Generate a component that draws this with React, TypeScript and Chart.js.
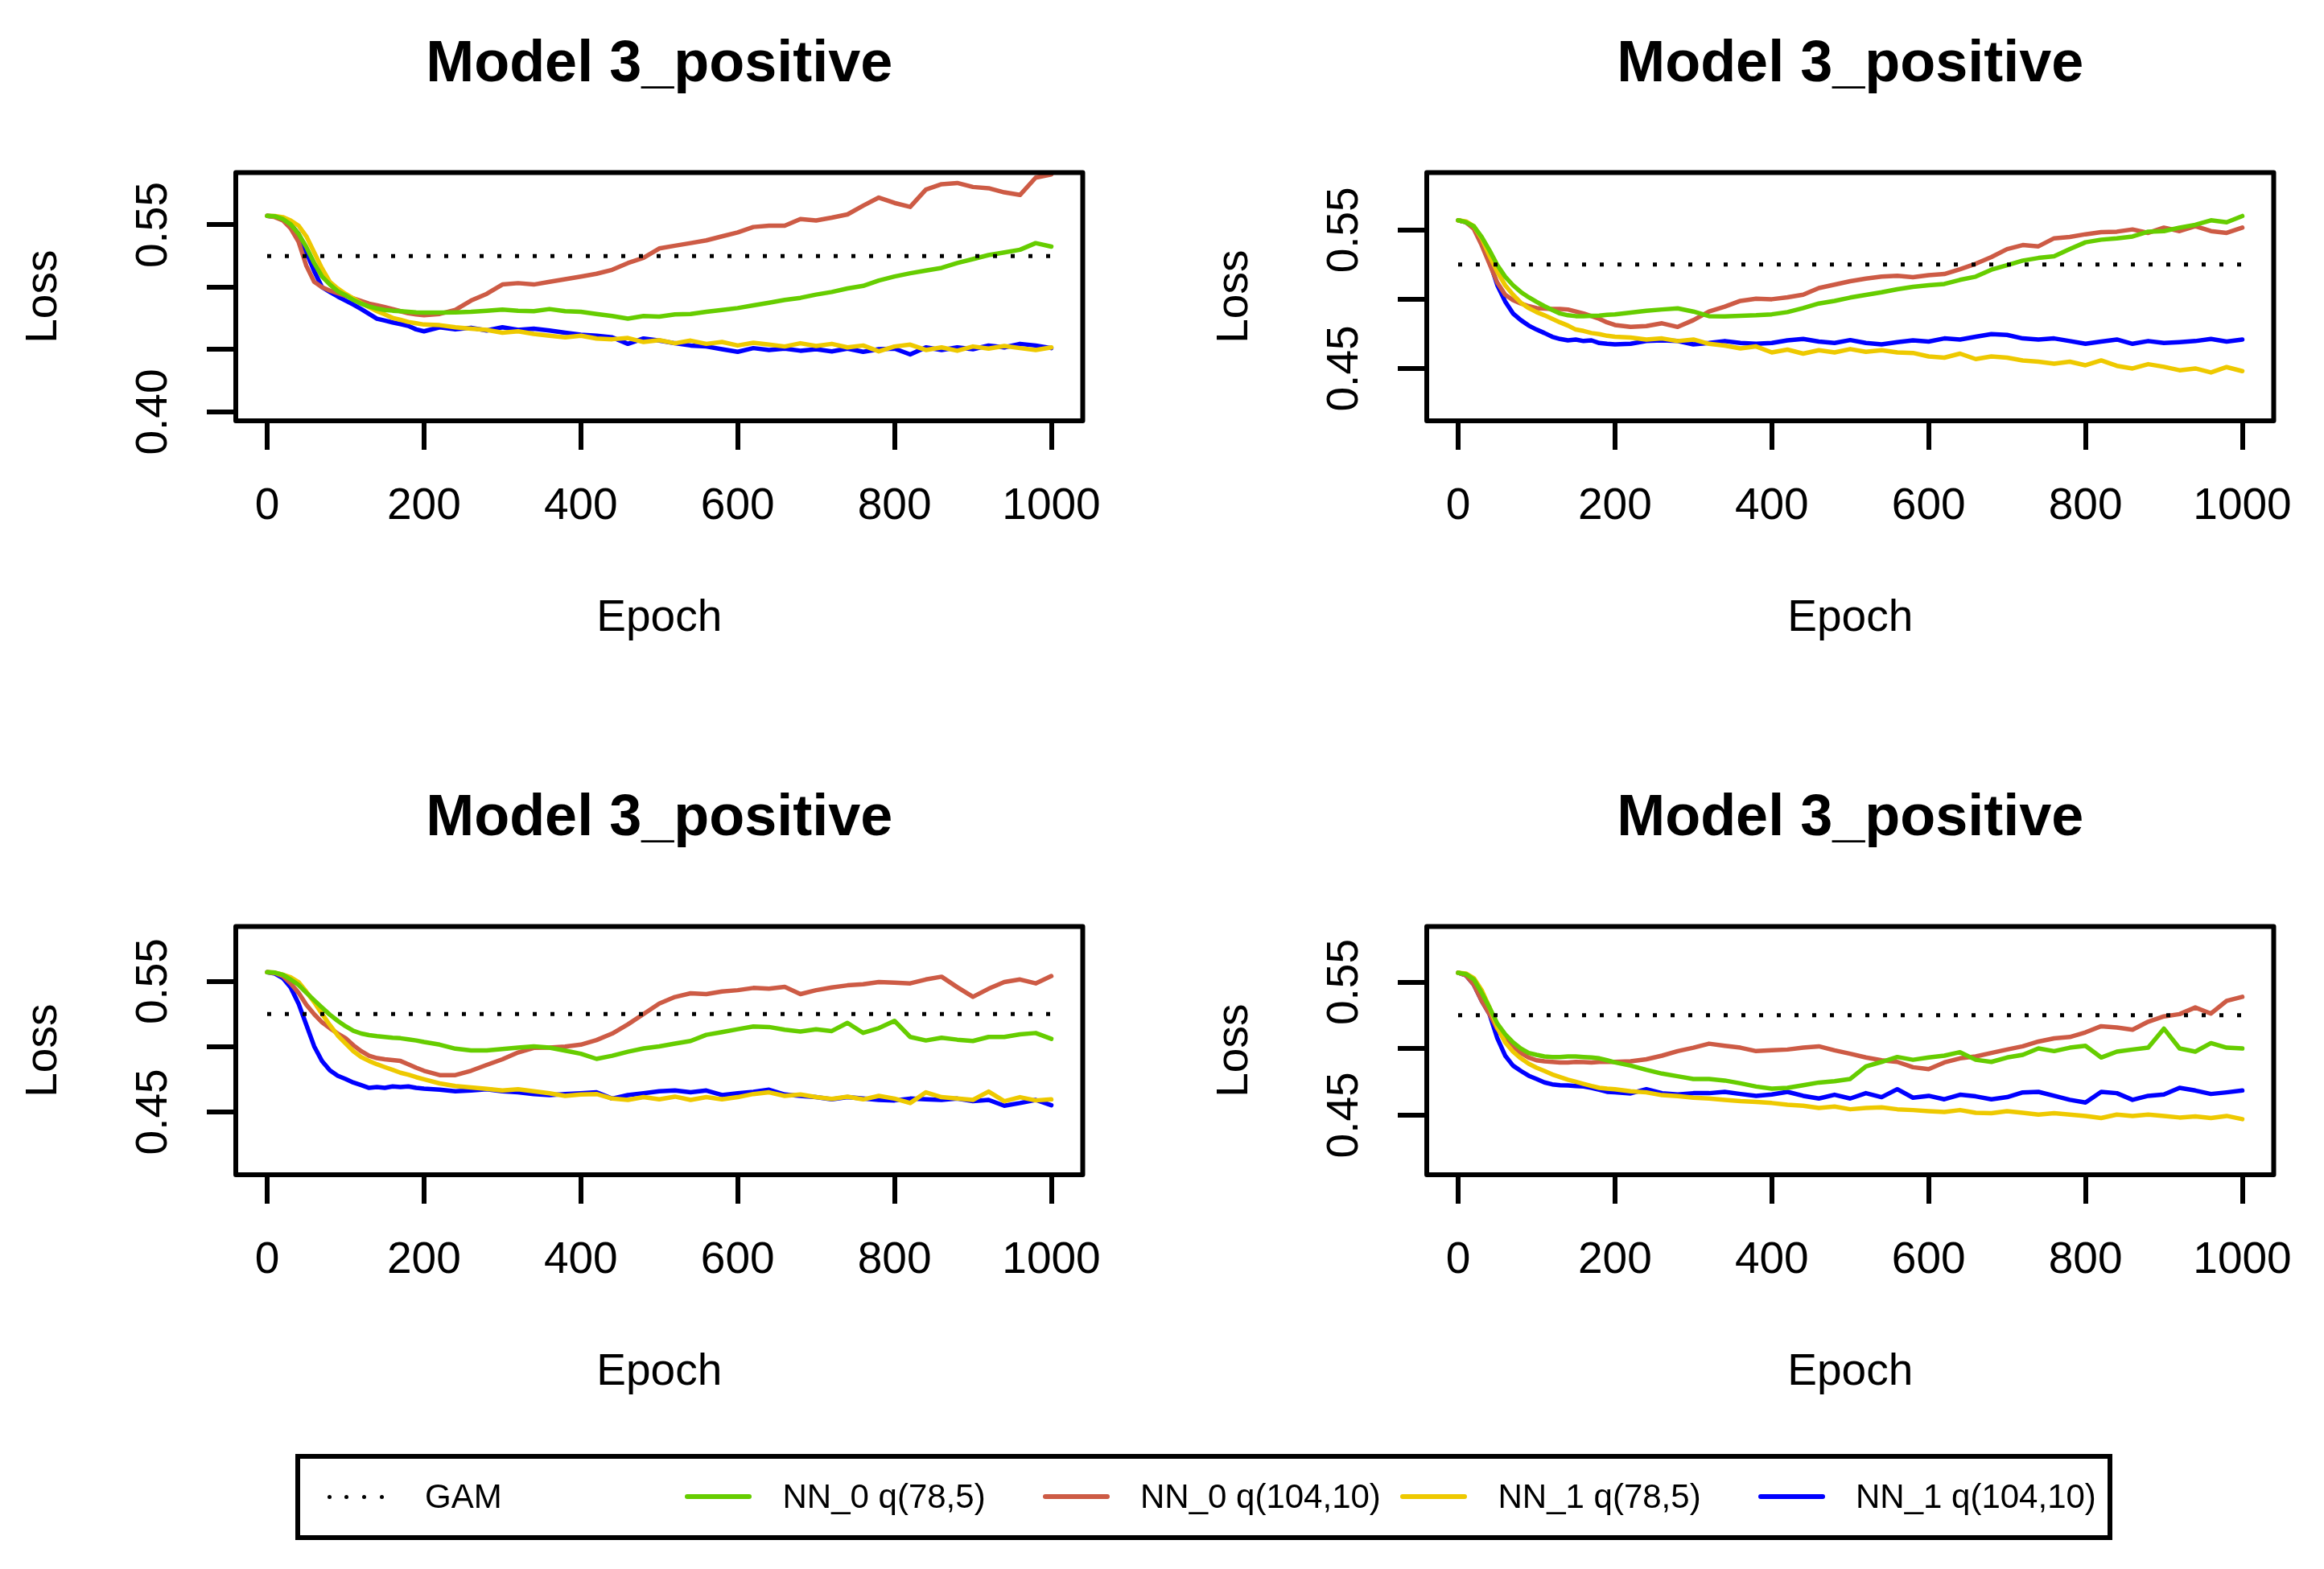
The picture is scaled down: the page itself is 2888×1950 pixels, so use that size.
import React, { useEffect, useRef } from "react";
import { Chart, registerables } from "chart.js";

Chart.register(...registerables);

const FONT = "'Liberation Sans', Arial, Helvetica, sans-serif";

// ---------- data ----------
const EPOCHS = [
  0, 10, 20, 30, 40, 50, 60, 70, 80, 90, 100, 110, 120, 130, 140, 150, 160, 170, 180, 190, 200,
  220, 240, 260, 280, 300, 320, 340, 360, 380, 400, 420, 440, 460, 480, 500, 520, 540, 560, 580,
  600, 620, 640, 660, 680, 700, 720, 740, 760, 780, 800, 820, 840, 860, 880, 900, 920, 940, 960, 980, 1000,
];
const X_TICKS = [0, 200, 400, 600, 800, 1000];
const GAM_LOSS = 0.525;
const PANEL_TITLE = "Model 3_positive";
const X_TITLE = "Epoch";
const Y_TITLE = "Loss";
const GAM_NAME = "GAM";
const SERIES_NAMES = ["NN_0 q(78,5)", "NN_0 q(104,10)", "NN_1 q(78,5)", "NN_1 q(104,10)"];

// Panel 1 (top-left)
const P1_NN0_78 = [
  0.5573, 0.5569, 0.5547, 0.5504, 0.5429, 0.5322, 0.5194, 0.5086, 0.5022, 0.4968, 0.4936, 0.4898, 0.4868, 0.4846, 0.4829, 0.4818, 0.4812, 0.4808, 0.4803, 0.4799, 0.4797,
  0.4797, 0.4799, 0.4803, 0.4812, 0.4821, 0.4812, 0.4808, 0.4825, 0.4808, 0.4803, 0.4786, 0.4769, 0.4748, 0.4769, 0.4765, 0.4782, 0.4786, 0.4803, 0.4818, 0.4833,
  0.4855, 0.4876, 0.4898, 0.4915, 0.4941, 0.4962, 0.4990, 0.5011, 0.5054, 0.5086, 0.5112, 0.5134, 0.5155, 0.5194, 0.5226, 0.5258, 0.5279, 0.5301, 0.5354, 0.5326,
];
const P1_NN0_104 = [
  0.5573, 0.5562, 0.5536, 0.5472, 0.5365, 0.5172, 0.5043, 0.5000, 0.4973, 0.4953, 0.4932, 0.4911, 0.4889, 0.4868, 0.4855, 0.4840, 0.4825, 0.4808, 0.4791, 0.4782, 0.4776,
  0.4786, 0.4818, 0.4893, 0.4947, 0.5022, 0.5033, 0.5022, 0.5043, 0.5065, 0.5086, 0.5108, 0.5140, 0.5194, 0.5236, 0.5311, 0.5333, 0.5354, 0.5376, 0.5408, 0.5440,
  0.5483, 0.5494, 0.5494, 0.5547, 0.5536, 0.5558, 0.5584, 0.5654, 0.5719, 0.5676, 0.5644, 0.5783, 0.5826, 0.5836, 0.5804, 0.5794, 0.5761, 0.5740, 0.5879, 0.5905,
];
const P1_NN1_78 = [
  0.5573, 0.5571, 0.5562, 0.5536, 0.5494, 0.5408, 0.5279, 0.5151, 0.5043, 0.4990, 0.4947, 0.4911, 0.4872, 0.4840, 0.4808, 0.4782, 0.4754, 0.4739, 0.4722, 0.4711, 0.4701,
  0.4696, 0.4679, 0.4668, 0.4658, 0.4636, 0.4647, 0.4626, 0.4611, 0.4598, 0.4611, 0.4589, 0.4583, 0.4593, 0.4561, 0.4576, 0.4551, 0.4572, 0.4546, 0.4561, 0.4533,
  0.4555, 0.4540, 0.4525, 0.4551, 0.4529, 0.4546, 0.4518, 0.4533, 0.4486, 0.4525, 0.4540, 0.4497, 0.4518, 0.4491, 0.4525, 0.4508, 0.4529, 0.4512, 0.4497, 0.4518,
];
const P1_NN1_104 = [
  0.5573, 0.5566, 0.5547, 0.5504, 0.5429, 0.5279, 0.5129, 0.5000, 0.4962, 0.4926, 0.4893, 0.4861, 0.4825, 0.4786, 0.4748, 0.4733, 0.4718, 0.4705, 0.4690, 0.4662, 0.4647,
  0.4679, 0.4662, 0.4675, 0.4653, 0.4679, 0.4658, 0.4668, 0.4653, 0.4636, 0.4619, 0.4611, 0.4598, 0.4546, 0.4589, 0.4572, 0.4551, 0.4533, 0.4525, 0.4503, 0.4482,
  0.4512, 0.4497, 0.4508, 0.4491, 0.4503, 0.4486, 0.4508, 0.4482, 0.4503, 0.4508, 0.4461, 0.4518, 0.4497, 0.4518, 0.4503, 0.4533, 0.4518, 0.4546, 0.4533, 0.4512,
];

// Panel 2 (top-right)
const P2_NN0_78 = [
  0.5570, 0.5556, 0.5527, 0.5450, 0.5353, 0.5246, 0.5163, 0.5101, 0.5052, 0.5014, 0.4981, 0.4950, 0.4922, 0.4897, 0.4884, 0.4878, 0.4878, 0.4880, 0.4882, 0.4888, 0.4891,
  0.4903, 0.4917, 0.4926, 0.4934, 0.4911, 0.4878, 0.4876, 0.4880, 0.4884, 0.4891, 0.4907, 0.4936, 0.4969, 0.4988, 0.5012, 0.5031, 0.5050, 0.5072, 0.5089, 0.5101,
  0.5110, 0.5140, 0.5163, 0.5213, 0.5246, 0.5279, 0.5298, 0.5310, 0.5362, 0.5411, 0.5430, 0.5440, 0.5453, 0.5488, 0.5492, 0.5517, 0.5537, 0.5570, 0.5556, 0.5601,
];
const P2_NN0_104 = [
  0.5570, 0.5556, 0.5508, 0.5391, 0.5256, 0.5120, 0.5033, 0.4994, 0.4969, 0.4950, 0.4936, 0.4932, 0.4930, 0.4930, 0.4926, 0.4911, 0.4897, 0.4878, 0.4859, 0.4833, 0.4814,
  0.4800, 0.4806, 0.4826, 0.4800, 0.4849, 0.4911, 0.4946, 0.4988, 0.5004, 0.5000, 0.5014, 0.5033, 0.5081, 0.5105, 0.5130, 0.5149, 0.5163, 0.5169, 0.5159, 0.5174,
  0.5182, 0.5217, 0.5256, 0.5304, 0.5362, 0.5391, 0.5382, 0.5440, 0.5450, 0.5469, 0.5484, 0.5488, 0.5504, 0.5479, 0.5517, 0.5492, 0.5527, 0.5492, 0.5479, 0.5517,
];
const P2_NN1_78 = [
  0.5570, 0.5562, 0.5527, 0.5440, 0.5314, 0.5198, 0.5101, 0.5033, 0.4975, 0.4936, 0.4907, 0.4884, 0.4859, 0.4833, 0.4810, 0.4781, 0.4771, 0.4756, 0.4748, 0.4736, 0.4729,
  0.4723, 0.4709, 0.4717, 0.4698, 0.4709, 0.4678, 0.4665, 0.4645, 0.4659, 0.4616, 0.4636, 0.4607, 0.4632, 0.4616, 0.4640, 0.4620, 0.4632, 0.4616, 0.4612, 0.4587,
  0.4578, 0.4607, 0.4568, 0.4587, 0.4578, 0.4558, 0.4549, 0.4535, 0.4549, 0.4523, 0.4558, 0.4519, 0.4500, 0.4531, 0.4512, 0.4487, 0.4500, 0.4471, 0.4510, 0.4481,
];
const P2_NN1_104 = [
  0.5570, 0.5556, 0.5517, 0.5411, 0.5275, 0.5101, 0.4984, 0.4897, 0.4849, 0.4810, 0.4781, 0.4756, 0.4729, 0.4713, 0.4703, 0.4709, 0.4698, 0.4703, 0.4684, 0.4678, 0.4674,
  0.4678, 0.4698, 0.4703, 0.4698, 0.4674, 0.4684, 0.4698, 0.4684, 0.4678, 0.4684, 0.4703, 0.4713, 0.4694, 0.4684, 0.4705, 0.4684, 0.4674, 0.4690, 0.4703, 0.4694,
  0.4717, 0.4709, 0.4729, 0.4748, 0.4742, 0.4717, 0.4709, 0.4717, 0.4698, 0.4678, 0.4694, 0.4709, 0.4678, 0.4698, 0.4684, 0.4690, 0.4698, 0.4713, 0.4694, 0.4709,
];

// Panel 3 (bottom-left)
const P3_NN0_78 = [
  0.5570, 0.5566, 0.5551, 0.5514, 0.5473, 0.5412, 0.5355, 0.5299, 0.5244, 0.5197, 0.5156, 0.5121, 0.5100, 0.5088, 0.5080, 0.5074, 0.5068, 0.5064, 0.5056, 0.5047, 0.5035,
  0.5015, 0.4984, 0.4971, 0.4971, 0.4982, 0.4992, 0.5002, 0.4992, 0.4969, 0.4945, 0.4906, 0.4930, 0.4961, 0.4986, 0.5002, 0.5023, 0.5043, 0.5090, 0.5111, 0.5133,
  0.5154, 0.5150, 0.5129, 0.5115, 0.5133, 0.5119, 0.5182, 0.5105, 0.5141, 0.5197, 0.5074, 0.5047, 0.5068, 0.5053, 0.5043, 0.5074, 0.5074, 0.5094, 0.5104, 0.5059,
];
const P3_NN0_104 = [
  0.5570, 0.5564, 0.5539, 0.5484, 0.5412, 0.5320, 0.5248, 0.5186, 0.5141, 0.5100, 0.5064, 0.5010, 0.4965, 0.4930, 0.4912, 0.4903, 0.4897, 0.4890, 0.4865, 0.4838, 0.4815,
  0.4782, 0.4782, 0.4815, 0.4860, 0.4903, 0.4955, 0.4990, 0.4992, 0.5000, 0.5015, 0.5050, 0.5100, 0.5170, 0.5250, 0.5330, 0.5380, 0.5408, 0.5402, 0.5422, 0.5432,
  0.5449, 0.5443, 0.5457, 0.5402, 0.5432, 0.5453, 0.5469, 0.5477, 0.5494, 0.5490, 0.5484, 0.5514, 0.5535, 0.5455, 0.5381, 0.5443, 0.5494, 0.5514, 0.5484, 0.5540,
];
const P3_NN1_78 = [
  0.5570, 0.5566, 0.5551, 0.5530, 0.5494, 0.5420, 0.5340, 0.5250, 0.5165, 0.5085, 0.5025, 0.4965, 0.4920, 0.4890, 0.4865, 0.4843, 0.4822, 0.4800, 0.4785, 0.4766, 0.4750,
  0.4718, 0.4698, 0.4688, 0.4676, 0.4664, 0.4674, 0.4658, 0.4643, 0.4623, 0.4633, 0.4637, 0.4602, 0.4592, 0.4613, 0.4596, 0.4617, 0.4592, 0.4613, 0.4596, 0.4613,
  0.4637, 0.4650, 0.4623, 0.4633, 0.4613, 0.4600, 0.4617, 0.4596, 0.4623, 0.4602, 0.4568, 0.4650, 0.4613, 0.4602, 0.4592, 0.4656, 0.4582, 0.4613, 0.4588, 0.4596,
];
const P3_NN1_104 = [
  0.5570, 0.5559, 0.5525, 0.5453, 0.5330, 0.5166, 0.5002, 0.4889, 0.4818, 0.4777, 0.4752, 0.4725, 0.4705, 0.4684, 0.4690, 0.4684, 0.4695, 0.4690, 0.4695, 0.4684, 0.4678,
  0.4670, 0.4658, 0.4664, 0.4674, 0.4658, 0.4650, 0.4637, 0.4629, 0.4637, 0.4643, 0.4650, 0.4602, 0.4629, 0.4643, 0.4658, 0.4664, 0.4650, 0.4664, 0.4629, 0.4643,
  0.4654, 0.4670, 0.4633, 0.4623, 0.4613, 0.4596, 0.4613, 0.4602, 0.4592, 0.4588, 0.4602, 0.4596, 0.4592, 0.4602, 0.4582, 0.4592, 0.4547, 0.4568, 0.4592, 0.4551,
];

// Panel 4 (bottom-right)
const P4_NN0_78 = [
  0.5570, 0.5560, 0.5520, 0.5420, 0.5309, 0.5188, 0.5108, 0.5047, 0.5001, 0.4967, 0.4953, 0.4941, 0.4937, 0.4937, 0.4941, 0.4941, 0.4937, 0.4933, 0.4927, 0.4912, 0.4896,
  0.4872, 0.4840, 0.4812, 0.4792, 0.4772, 0.4772, 0.4760, 0.4739, 0.4715, 0.4699, 0.4705, 0.4725, 0.4745, 0.4755, 0.4772, 0.4866, 0.4900, 0.4937, 0.4916, 0.4933,
  0.4947, 0.4973, 0.4916, 0.4900, 0.4933, 0.4953, 0.5001, 0.4981, 0.5007, 0.5021, 0.4933, 0.4977, 0.4993, 0.5007, 0.5150, 0.5001, 0.4977, 0.5041, 0.5007, 0.5001,
];
const P4_NN0_104 = [
  0.5570, 0.5550, 0.5480, 0.5359, 0.5259, 0.5149, 0.5077, 0.5017, 0.4967, 0.4933, 0.4912, 0.4904, 0.4900, 0.4896, 0.4896, 0.4900, 0.4898, 0.4896, 0.4900, 0.4900, 0.4900,
  0.4904, 0.4920, 0.4947, 0.4981, 0.5007, 0.5037, 0.5021, 0.5007, 0.4981, 0.4987, 0.4993, 0.5007, 0.5017, 0.4987, 0.4961, 0.4933, 0.4912, 0.4900, 0.4860, 0.4846,
  0.4896, 0.4927, 0.4941, 0.4967, 0.4993, 0.5017, 0.5053, 0.5077, 0.5087, 0.5122, 0.5168, 0.5158, 0.5142, 0.5202, 0.5242, 0.5259, 0.5309, 0.5263, 0.5359, 0.5389,
];
const P4_NN1_78 = [
  0.5570, 0.5564, 0.5530, 0.5440, 0.5309, 0.5158, 0.5047, 0.4977, 0.4927, 0.4886, 0.4856, 0.4832, 0.4806, 0.4786, 0.4766, 0.4751, 0.4735, 0.4719, 0.4705, 0.4699, 0.4695,
  0.4679, 0.4671, 0.4650, 0.4643, 0.4631, 0.4625, 0.4615, 0.4605, 0.4599, 0.4591, 0.4578, 0.4570, 0.4554, 0.4564, 0.4544, 0.4554, 0.4558, 0.4544, 0.4538, 0.4530,
  0.4524, 0.4538, 0.4518, 0.4514, 0.4530, 0.4518, 0.4504, 0.4514, 0.4504, 0.4494, 0.4478, 0.4504, 0.4494, 0.4504, 0.4494, 0.4482, 0.4490, 0.4478, 0.4494, 0.4470,
];
const P4_NN1_104 = [
  0.5570, 0.5550, 0.5480, 0.5359, 0.5259, 0.5077, 0.4947, 0.4872, 0.4832, 0.4796, 0.4772, 0.4746, 0.4731, 0.4725, 0.4723, 0.4719, 0.4715, 0.4705, 0.4691, 0.4675, 0.4671,
  0.4663, 0.4695, 0.4665, 0.4655, 0.4665, 0.4665, 0.4675, 0.4659, 0.4645, 0.4655, 0.4675, 0.4645, 0.4625, 0.4653, 0.4625, 0.4665, 0.4635, 0.4695, 0.4631, 0.4645,
  0.4619, 0.4653, 0.4641, 0.4619, 0.4635, 0.4671, 0.4675, 0.4645, 0.4615, 0.4595, 0.4675, 0.4665, 0.4615, 0.4645, 0.4655, 0.4705, 0.4685, 0.4659, 0.4671, 0.4685,
];

const P1_Y_TICKS = [0.4, 0.45, 0.5, 0.55];
const P1_Y_LABELS = [0.4, 0.55];
const P234_Y_TICKS = [0.45, 0.5, 0.55];
const P234_Y_LABELS = [0.45, 0.55];

// ---------- styles / layout ----------
const SERIES_COLORS = ["#66CD00", "#CD5B45", "#EEC900", "#0000FF"];
// drawing order: first dataset on top
const DRAW_ORDER = [0, 2, 1, 3];

const CANVAS_W = 1408;
const CANVAS_H = 937;

const PANELS = [
  { left: 0, top: 0, yMin: 0.3929, yMax: 0.592, yTicks: P1_Y_TICKS, yLabels: P1_Y_LABELS, series: [P1_NN0_78, P1_NN0_104, P1_NN1_78, P1_NN1_104] },
  { left: 1480, top: 0, yMin: 0.4122, yMax: 0.5915, yTicks: P234_Y_TICKS, yLabels: P234_Y_LABELS, series: [P2_NN0_78, P2_NN0_104, P2_NN1_78, P2_NN1_104] },
  { left: 0, top: 937, yMin: 0.4019, yMax: 0.592, yTicks: P234_Y_TICKS, yLabels: P234_Y_LABELS, series: [P3_NN0_78, P3_NN0_104, P3_NN1_78, P3_NN1_104] },
  { left: 1480, top: 937, yMin: 0.4052, yMax: 0.5918, yTicks: P234_Y_TICKS, yLabels: P234_Y_LABELS, series: [P4_NN0_78, P4_NN0_104, P4_NN1_78, P4_NN1_104] },
];

const boxPlugin = {
  id: "plotBox",
  afterDraw(chart: any) {
    const { ctx, chartArea: a } = chart;
    ctx.save();
    ctx.strokeStyle = "#000";
    ctx.lineWidth = 6;
    ctx.lineJoin = "round";
    ctx.strokeRect(a.left, a.top, a.right - a.left, a.bottom - a.top);
    ctx.restore();
  },
};

function Panel({ cfg }: { cfg: any }) {
  const ref = useRef<HTMLCanvasElement>(null);
  useEffect(() => {
    const datasets: any[] = [
      {
        label: GAM_NAME,
        data: [
          { x: EPOCHS[0], y: GAM_LOSS },
          { x: EPOCHS[EPOCHS.length - 1], y: GAM_LOSS },
        ],
        borderColor: "#000",
        borderWidth: 5,
        borderDash: [5, 17],
        borderCapStyle: "butt",
        pointRadius: 0,
      },
    ];
    DRAW_ORDER.forEach((si) => {
      datasets.push({
        label: SERIES_NAMES[si],
        data: EPOCHS.map((e, i) => ({ x: e, y: cfg.series[si][i] })),
        borderColor: SERIES_COLORS[si],
        borderWidth: 5.5,
        borderJoinStyle: "round",
        borderCapStyle: "round",
        pointRadius: 0,
        tension: 0,
      });
    });
    const gridOpts = {
      display: true,
      drawOnChartArea: false,
      drawTicks: true,
      tickLength: 36,
      lineWidth: 6,
      color: "#000",
    };
    const chart = new Chart(ref.current as HTMLCanvasElement, {
      type: "line",
      data: { datasets },
      options: {
        animation: false,
        responsive: false,
        devicePixelRatio: 1,
        layout: { padding: { left: 0, right: 60, top: 0, bottom: 0 } },
        plugins: {
          legend: { display: false },
          tooltip: { enabled: false },
          title: {
            display: true,
            text: PANEL_TITLE,
            fullSize: false,
            color: "#000",
            font: { family: FONT, size: 72, weight: "bold", lineHeight: 1.2 },
            padding: { top: 38, bottom: 90 },
          },
        },
        scales: {
          x: {
            type: "linear",
            min: -40,
            max: 1040,
            afterBuildTicks: (s: any) => {
              s.ticks = X_TICKS.map((v) => ({ value: v }));
            },
            afterFit: (s: any) => {
              s.height = CANVAS_H - 523;
            },
            grid: gridOpts,
            border: { display: false },
            ticks: {
              autoSkip: false,
              minRotation: 0,
              maxRotation: 0,
              padding: 38,
              color: "#000",
              font: { family: FONT, size: 55 },
              callback: (v: any) => String(v),
            },
            title: {
              display: true,
              text: X_TITLE,
              color: "#000",
              font: { family: FONT, size: 55 },
              padding: { top: 0, bottom: 135 },
            },
          },
          y: {
            type: "linear",
            min: cfg.yMin,
            max: cfg.yMax,
            afterBuildTicks: (s: any) => {
              s.ticks = cfg.yTicks.map((v: number) => ({ value: v }));
            },
            afterFit: (s: any) => {
              s.width = 293;
            },
            grid: gridOpts,
            border: { display: false },
            ticks: {
              autoSkip: false,
              minRotation: 90,
              maxRotation: 90,
              crossAlign: "center",
              padding: 11.5,
              color: "#000",
              font: { family: FONT, size: 55 },
              callback: (v: any) =>
                cfg.yLabels.some((l: number) => Math.abs(l - Number(v)) < 1e-6) ? Number(v).toFixed(2) : "",
            },
            title: {
              display: true,
              text: Y_TITLE,
              color: "#000",
              font: { family: FONT, size: 55 },
              padding: { top: 22, bottom: 0 },
            },
          },
        },
      } as any,
      plugins: [boxPlugin],
    } as any);
    return () => chart.destroy();
  }, []);
  return (
    <canvas
      ref={ref}
      width={CANVAS_W}
      height={CANVAS_H}
      style={{ position: "absolute", left: cfg.left, top: cfg.top, width: CANVAS_W, height: CANVAS_H }}
    />
  );
}

const LEGEND_ITEMS = [GAM_NAME, ...SERIES_NAMES];
const LEGEND_COLORS = ["#000", ...SERIES_COLORS];

function Legend() {
  const textX0 = 528;
  const step = 444.5;
  const cy = 1860;
  return (
    <>
      <div
        style={{
          position: "absolute",
          left: 367,
          top: 1807,
          width: 2258,
          height: 107,
          border: "6px solid #000",
          boxSizing: "border-box",
          background: "transparent",
        }}
      />
      {LEGEND_ITEMS.map((name, i) => {
        const tx = textX0 + i * step;
        const lx = tx - 121.5;
        return (
          <React.Fragment key={name}>
            {i === 0 ? (
              [0, 1, 2, 3].map((k) => (
                <div
                  key={k}
                  style={{
                    position: "absolute",
                    left: 406.5 + k * 21.7,
                    top: cy - 2.5,
                    width: 5,
                    height: 5,
                    borderRadius: 2.5,
                    background: "#000",
                  }}
                />
              ))
            ) : (
              <div
                style={{
                  position: "absolute",
                  left: lx,
                  top: cy - 3,
                  width: 83,
                  height: 6,
                  borderRadius: 3,
                  background: LEGEND_COLORS[i],
                }}
              />
            )}
            <div
              style={{
                position: "absolute",
                left: tx,
                top: cy - 25,
                height: 50,
                lineHeight: "50px",
                fontFamily: FONT,
                fontSize: 42,
                color: "#000",
                whiteSpace: "nowrap",
              }}
            >
              {name}
            </div>
          </React.Fragment>
        );
      })}
    </>
  );
}

export default function App() {
  return (
    <div
      style={{
        position: "absolute",
        left: 0,
        top: 0,
        width: 2888,
        height: 1950,
        background: "#fff",
        overflow: "hidden",
      }}
    >
      {PANELS.map((p, i) => (
        <Panel key={i} cfg={p} />
      ))}
      <Legend />
    </div>
  );
}
